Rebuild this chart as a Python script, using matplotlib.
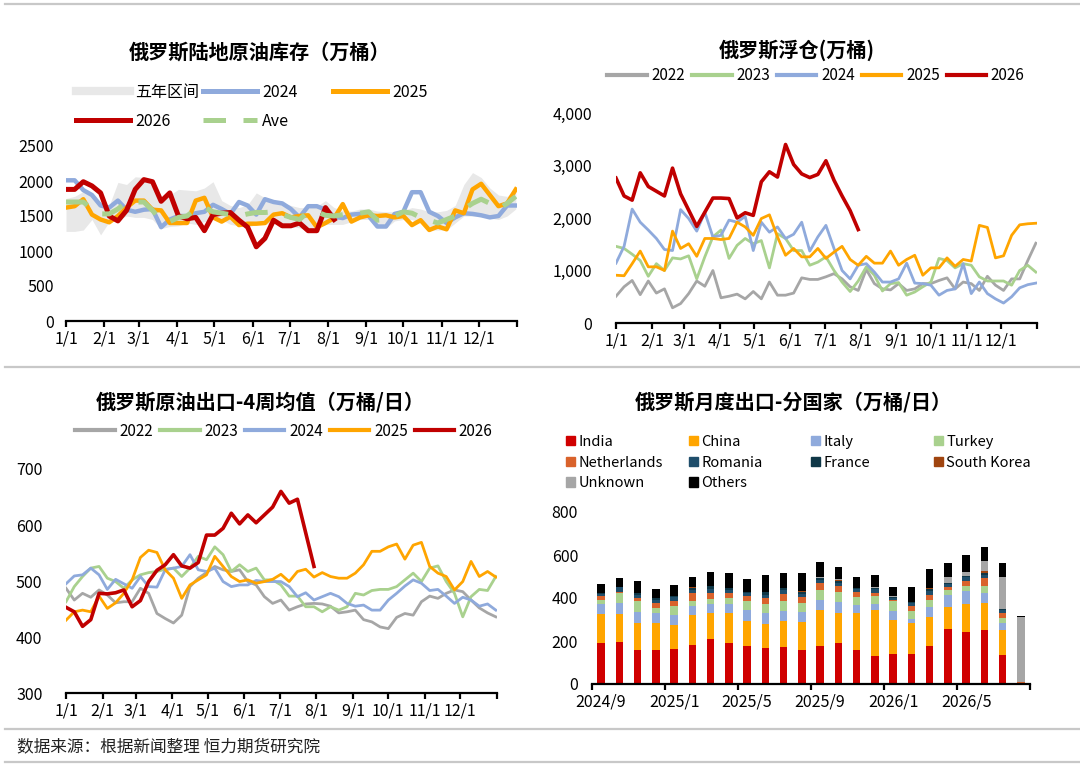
import matplotlib
matplotlib.use('Agg')
import matplotlib.pyplot as plt
from matplotlib.lines import Line2D
from matplotlib.patches import Patch
from matplotlib.ticker import FuncFormatter
import numpy as np

plt.rcParams['font.family'] = ['Noto Sans CJK SC', 'DejaVu Sans']
plt.rcParams['axes.unicode_minus'] = False

W, H = 1080, 770

# ---- data ----
month_days = [0, 31, 59, 90, 120, 151, 181, 212, 243, 273, 304, 334, 365]
month_labels = ['1/1', '2/1', '3/1', '4/1', '5/1', '6/1', '7/1', '8/1', '9/1',
                '10/1', '11/1', '12/1', '']

# 陆地库存 (万桶), weekly
inv_band_hi = [1750, 1780, 1850, 1800, 1700, 1650, 1980, 1950, 2060, 2050,
               1950, 1750, 1800, 1880, 1870, 1860, 1900, 1990, 1720, 1650,
               1620, 1660, 1830, 1760, 1720, 1690, 1650, 1620, 1620, 1640,
               1720, 1620, 1580, 1570, 1600, 1600, 1570, 1560, 1560, 1580,
               1620, 1600, 1560, 1560, 1580, 1650, 1950, 2120, 2050, 1900,
               1800, 1780, 1900]
inv_band_lo = [1280, 1280, 1300, 1450, 1230, 1420, 1450, 1500, 1480, 1480,
               1450, 1320, 1350, 1360, 1400, 1380, 1420, 1450, 1450, 1380,
               1360, 1340, 1380, 1380, 1400, 1380, 1350, 1330, 1300, 1320,
               1380, 1380, 1380, 1420, 1450, 1450, 1330, 1330, 1430, 1450,
               1450, 1400, 1300, 1300, 1300, 1400, 1500, 1500, 1500, 1470,
               1450, 1500, 1600]
inv_2024 = [2010, 2010, 1870, 1800, 1650, 1620, 1720, 1590, 1560, 1590,
            1600, 1340, 1450, 1500, 1500, 1540, 1560, 1660, 1600, 1530,
            1700, 1650, 1520, 1740, 1700, 1680, 1600, 1480, 1640, 1640,
            1590, 1490, 1470, 1520, 1530, 1500, 1350, 1350, 1530, 1560,
            1840, 1840, 1560, 1500, 1400, 1480, 1540, 1530, 1510, 1480,
            1500, 1650, 1650]
inv_2025 = [1620, 1640, 1740, 1520, 1450, 1410, 1500, 1620, 1720, 1720,
            1590, 1580, 1400, 1400, 1400, 1720, 1760, 1480, 1420, 1490,
            1370, 1390, 1390, 1400, 1520, 1540, 1480, 1500, 1510, 1340,
            1400, 1470, 1670, 1420, 1480, 1510, 1500, 1510, 1480, 1500,
            1370, 1440, 1300, 1350, 1310, 1580, 1540, 1880, 1960, 1800,
            1640, 1680, 1880]
inv_2026 = [1880, 1880, 1990, 1930, 1830, 1500, 1430, 1580, 1880, 2020,
            1990, 1710, 1830, 1500, 1460, 1480, 1290, 1520, 1540, 1550,
            1440, 1340, 1060, 1180, 1440, 1360, 1360, 1400, 1290, 1290,
            1620, 1450]
inv_ave = [1700, 1700, 1700, 1600, 1530, 1530, 1600, 1700, 1700, 1700,
           1580, 1440, 1420, 1480, 1500, 1600, 1620, 1560, 1540, 1520,
           1500, 1530, 1550, 1550, 1560, 1520, 1480, 1450, 1560, 1560,
           1510, 1500, 1520, 1530, 1540, 1560, 1440, 1450, 1500, 1560,
           1540, 1480, 1440, 1400, 1450, 1500, 1600, 1680, 1740, 1680,
           1600, 1680, 1780]

# 浮仓 (万桶), weekly
flt_2022 = [510, 690, 810, 540, 800, 570, 650, 290, 370, 560,
            800, 700, 1000, 480, 510, 550, 460, 600, 460, 780,
            530, 530, 570, 860, 830, 830, 880, 940, 840, 690,
            620, 1020, 750, 650, 630, 750, 620, 650, 750, 750,
            810, 860, 650, 780, 750, 620, 890, 720, 620, 840,
            840, 1190, 1520]
flt_2023 = [1460, 1420, 1310, 1190, 890, 1130, 1000, 1240, 1220, 1280,
            840, 1260, 1640, 1770, 1230, 1480, 1610, 1510, 1570, 1050,
            1700, 1610, 1380, 1380, 1100, 1160, 1260, 1000, 780, 600,
            800, 1070, 910, 610, 750, 770, 530, 590, 690, 780,
            1230, 1190, 1050, 1130, 1100, 880, 800, 800, 800, 720,
            1000, 1100, 970]
flt_2024 = [1140, 1460, 2170, 1920, 1770, 1610, 1400, 1380, 2160, 1990,
            1750, 2110, 1640, 1670, 1960, 1920, 2030, 1380, 1920, 1730,
            1830, 1610, 1690, 1920, 1370, 1640, 1860, 1420, 1000, 840,
            1100, 1130, 970, 780, 780, 840, 1140, 760, 750, 720,
            530, 620, 650, 1130, 560, 780, 560, 460, 380, 500,
            670, 730, 760]
flt_2025 = [910, 900, 1130, 1370, 1070, 1070, 1000, 1750, 1420, 1510,
            1270, 1610, 1610, 1590, 1610, 1920, 1830, 1670, 1990, 2060,
            1640, 1290, 1420, 1260, 1260, 1420, 1230, 1350, 1460, 1210,
            1100, 1270, 1140, 1140, 1370, 1100, 1210, 1290, 910, 1050,
            1050, 1240, 1080, 1210, 1180, 1860, 1820, 1240, 1280, 1670,
            1870, 1890, 1900]
flt_2026 = [2760, 2420, 2340, 2860, 2600, 2510, 2420, 2950, 2460, 2150,
            1840, 2110, 2380, 2380, 2370, 2000, 2100, 2050, 2690, 2880,
            2780, 3400, 3020, 2840, 2770, 2830, 3090, 2720, 2420, 2140,
            1780]

# 出口4周均值 (万桶/日), weekly
exp_2022 = [487, 466, 478, 471, 484, 475, 461, 463, 463, 487,
            478, 442, 433, 425, 439, 490, 505, 515, 526, 520,
            517, 520, 499, 493, 472, 460, 466, 448, 454, 459,
            460, 459, 455, 443, 445, 448, 431, 427, 418, 415,
            435, 442, 439, 463, 473, 469, 478, 484, 481, 466,
            452, 443, 436]
exp_2023 = [463, 490, 508, 523, 526, 505, 499, 487, 502, 511,
            515, 517, 521, 523, 508, 523, 544, 538, 561, 547,
            517, 529, 517, 523, 502, 502, 493, 473, 473, 454,
            454, 445, 454, 448, 454, 478, 475, 483, 485, 485,
            490, 502, 514, 499, 523, 527, 499, 478, 436, 472,
            485, 483, 508]
exp_2024 = [495, 509, 511, 523, 511, 485, 503, 495, 487, 508,
            490, 489, 520, 523, 526, 547, 520, 517, 523, 499,
            490, 493, 493, 501, 499, 499, 499, 490, 472, 479,
            466, 472, 478, 472, 460, 455, 457, 448, 448, 466,
            478, 491, 502, 496, 483, 485, 473, 460, 471, 466,
            455, 459, 448]
exp_2025 = [430, 445, 448, 445, 473, 451, 461, 478, 502, 542,
            555, 551, 520, 505, 469, 493, 502, 511, 544, 526,
            508, 499, 502, 496, 499, 503, 512, 499, 517, 521,
            507, 515, 508, 505, 505, 514, 529, 553, 553, 561,
            566, 539, 564, 569, 526, 514, 508, 484, 499, 535,
            508, 517, 507]
exp_2026 = [453, 445, 419, 431, 478, 477, 479, 484, 454, 465,
            499, 519, 529, 547, 527, 523, 533, 582, 582, 594,
            621, 602, 618, 604, 618, 632, 660, 639, 646, 586, 526]

# 分国家月度出口 (万桶/日), 2024/9 - 2026/8
bar_tick_labels = ['2024/9', '2025/1', '2025/5', '2025/9', '2026/1', '2026/5']
countries = ['India', 'China', 'Italy', 'Turkey', 'Netherlands', 'Romania',
             'France', 'South Korea', 'Unknown', 'Others']
india = [189, 196, 158, 157, 161, 183, 210, 189, 179, 169, 174, 158,
         177, 189, 158, 132, 138, 141, 177, 255, 244, 252, 134, 2]
china = [137, 130, 128, 126, 114, 138, 119, 140, 116, 111, 121, 129,
         168, 140, 171, 213, 160, 142, 134, 105, 127, 124, 118, 4]
italy = [47, 53, 51, 46, 46, 42, 42, 44, 47, 49, 45, 47,
         46, 53, 37, 29, 42, 21, 45, 55, 61, 46, 31, 0]
turkey = [18, 46, 47, 23, 42, 21, 25, 26, 46, 44, 48, 45,
          47, 47, 38, 36, 44, 36, 35, 20, 26, 36, 24, 0]
netherlands = [16, 5, 15, 27, 22, 38, 26, 23, 22, 25, 31, 25,
               31, 28, 23, 15, 7, 25, 24, 15, 19, 34, 22, 2]
romania = [11, 20, 15, 12, 18, 16, 20, 14, 14, 18, 17, 15,
           16, 15, 14, 15, 8, 10, 18, 15, 19, 16, 13, 0]
france = [4, 3, 8, 8, 4, 8, 12, 9, 5, 10, 10, 10,
          7, 8, 5, 6, 5, 8, 10, 5, 7, 8, 6, 0]
south_korea = [0, 0, 0, 0, 0, 3, 0, 3, 0, 0, 0, 5,
               0, 4, 0, 0, 2, 0, 5, 0, 0, 8, 0, 0]
unknown = [0, 0, 0, 0, 0, 0, 0, 0, 0, 4, 0, 0,
           8, 4, 0, 5, 4, 0, 0, 27, 17, 49, 149, 302]
others = [44, 38, 58, 45, 55, 48, 65, 68, 59, 75, 70, 82,
          67, 55, 51, 58, 39, 67, 86, 68, 81, 64, 64, 6]

# ---- colours ----
C_RED = '#C00000'
C_BLUE = '#8FAADC'
C_ORANGE = '#FFA500'
C_GRAY = '#A6A6A6'
C_GREEN = '#A9D18E'
C_BAND = '#E8E8E8'
bar_colors = ['#D00000', '#FFA500', '#8FAADC', '#A9D18E', '#D9622B',
              '#1F4E6B', '#0F3747', '#A0450F', '#A6A6A6', '#000000']


def px_axes(fig, x0, y0, x1, y1):
    return fig.add_axes([x0 / W, 1 - y1 / H, (x1 - x0) / W, (y1 - y0) / H])


def style_axes(ax, ylo, yhi, step, ypad):
    ax.set_ylim(ylo, yhi)
    ax.set_yticks(np.arange(ylo, yhi + 1, step))
    for s in ['top', 'right', 'left']:
        ax.spines[s].set_visible(False)
    ax.spines['bottom'].set_linewidth(1.6)
    ax.tick_params(axis='x', length=4, width=1.6, direction='out', pad=3,
                   labelsize=11.5)
    ax.tick_params(axis='y', length=0, pad=ypad, labelsize=11.5)


def month_axis(ax):
    ax.set_xlim(0, 365)
    ax.set_xticks(month_days)
    ax.set_xticklabels(month_labels)


def px_legend(fig, handles, labels, x, y, **kw):
    opts = dict(loc='center left', frameon=False, fontsize=11,
                borderpad=0, borderaxespad=0, handletextpad=0.3)
    opts.update(kw)
    return fig.legend(handles, labels, bbox_to_anchor=(x / W, 1 - y / H),
                      bbox_transform=fig.transFigure, **opts)


def weeks(series):
    return np.arange(len(series)) * 7


fig = plt.figure(figsize=(W / 100, H / 100), dpi=100)
fig.patch.set_facecolor('white')

# separator lines
for yy in [4, 367, 729, 762]:
    fig.add_artist(Line2D([5 / W, 1], [1 - yy / H, 1 - yy / H],
                          transform=fig.transFigure, color='#C8C8C8', lw=1.6))

# ---------- panel 1 ----------
ax1 = px_axes(fig, 66, 146, 517, 321)
x_all = weeks(inv_band_hi)
ax1.fill_between(x_all, inv_band_lo, inv_band_hi, color=C_BAND, lw=0)
ax1.plot(weeks(inv_2024), inv_2024, color=C_BLUE, lw=3.2, solid_joinstyle='round')
ax1.plot(weeks(inv_2025), inv_2025, color=C_ORANGE, lw=3.2, solid_joinstyle='round')
ax1.plot(weeks(inv_2026), inv_2026, color=C_RED, lw=3.6, solid_joinstyle='round')
ax1.plot(weeks(inv_ave), inv_ave, color=C_GREEN, lw=3.6, dashes=(4.5, 3.5))
style_axes(ax1, 0, 2500, 500, 9)
month_axis(ax1)
fig.text(260 / W, 1 - 52 / H, '俄罗斯陆地原油库存（万桶）', ha='center', va='center',
         fontsize=14.5, fontweight='bold')
h_band = Line2D([], [], color=C_BAND, lw=6)
h24 = Line2D([], [], color=C_BLUE, lw=3.6)
h25 = Line2D([], [], color=C_ORANGE, lw=3.6)
h26 = Line2D([], [], color=C_RED, lw=3.6)
hav = Line2D([], [], color=C_GREEN, lw=3.6, dashes=(4.5, 3.5))
leg_kw = dict(loc='upper left', handlelength=3.4, labelspacing=0.75,
              fontsize=11.5)
px_legend(fig, [h_band, h26], ['五年区间', '2026'], 76, 84, **leg_kw)
px_legend(fig, [h24, hav], ['2024', 'Ave'], 203, 84, **leg_kw)
px_legend(fig, [h25], ['2025'], 333, 84, **leg_kw)

# ---------- panel 2 ----------
ax2 = px_axes(fig, 616, 113, 1037, 323)
for s, c, lw in [(flt_2022, C_GRAY, 2.0), (flt_2023, C_GREEN, 2.0),
                 (flt_2024, C_BLUE, 2.0), (flt_2025, C_ORANGE, 2.0),
                 (flt_2026, C_RED, 2.6)]:
    ax2.plot(weeks(s), s, color=c, lw=lw, solid_joinstyle='round')
style_axes(ax2, 0, 4000, 1000, 17)
month_axis(ax2)
ax2.yaxis.set_major_formatter(FuncFormatter(lambda v, p: f'{v:,.0f}'))
fig.text(797 / W, 1 - 50 / H, '俄罗斯浮仓(万桶)', ha='center', va='center',
         fontsize=14.5, fontweight='bold')
yr_labels = ['2022', '2023', '2024', '2025', '2026']
yr_colors = [C_GRAY, C_GREEN, C_BLUE, C_ORANGE, C_RED]
yr_handles = [Line2D([], [], color=c, lw=3) for c in yr_colors]
px_legend(fig, yr_handles, yr_labels, 607, 76, ncol=5, handlelength=2.6,
          columnspacing=0.45)

# ---------- panel 3 ----------
ax3 = px_axes(fig, 66, 469, 497, 693)
for s, c, lw in [(exp_2022, C_GRAY, 2.0), (exp_2023, C_GREEN, 2.0),
                 (exp_2024, C_BLUE, 2.0), (exp_2025, C_ORANGE, 2.0),
                 (exp_2026, C_RED, 2.6)]:
    ax3.plot(weeks(s), s, color=c, lw=lw, solid_joinstyle='round')
style_axes(ax3, 300, 700, 100, 17)
month_axis(ax3)
fig.text(260 / W, 1 - 402 / H, '俄罗斯原油出口-4周均值（万桶/日）', ha='center',
         va='center', fontsize=14.5, fontweight='bold')
px_legend(fig, yr_handles, yr_labels, 75, 431, ncol=5, handlelength=2.6,
          columnspacing=0.45)

# ---------- panel 4 ----------
ax4 = px_axes(fig, 592, 512, 1030, 684)
series = [india, china, italy, turkey, netherlands, romania, france,
          south_korea, unknown, others]
xb = np.arange(len(india))
bottom = np.zeros(len(india))
for vals, c in zip(series, bar_colors):
    ax4.bar(xb, vals, bottom=bottom, width=0.4, color=c, lw=0)
    bottom += np.array(vals)
style_axes(ax4, 0, 800, 200, 10)
ax4.set_xlim(-0.5, len(india) - 0.5)
ax4.set_xticks(np.arange(-0.5, len(india), 4))
ax4.set_xticklabels([])
ax4.set_xticks(np.arange(0, len(india), 4), minor=True)
ax4.set_xticklabels(bar_tick_labels, minor=True)
ax4.tick_params(axis='x', which='minor', length=0, pad=7, labelsize=11.5)
fig.text(793 / W, 1 - 402 / H, '俄罗斯月度出口-分国家（万桶/日）', ha='center',
         va='center', fontsize=14.5, fontweight='bold')
col_x = [566, 689, 811, 934]
col_items = [[0, 4, 8], [1, 5, 9], [2, 6], [3, 7]]
for cx, idx in zip(col_x, col_items):
    px_legend(fig, [Patch(color=bar_colors[i]) for i in idx],
              [countries[i] for i in idx], cx, 435, loc='upper left',
              fontsize=10.5, handlelength=0.6, handleheight=0.6,
              handletextpad=0.25, labelspacing=0.45)

# source
fig.text(17 / W, 1 - 747 / H, '数据来源：根据新闻整理 恒力期货研究院', ha='left',
         va='center', fontsize=12, color='#222222')

fig.savefig('out.png', dpi=100, facecolor='white')
